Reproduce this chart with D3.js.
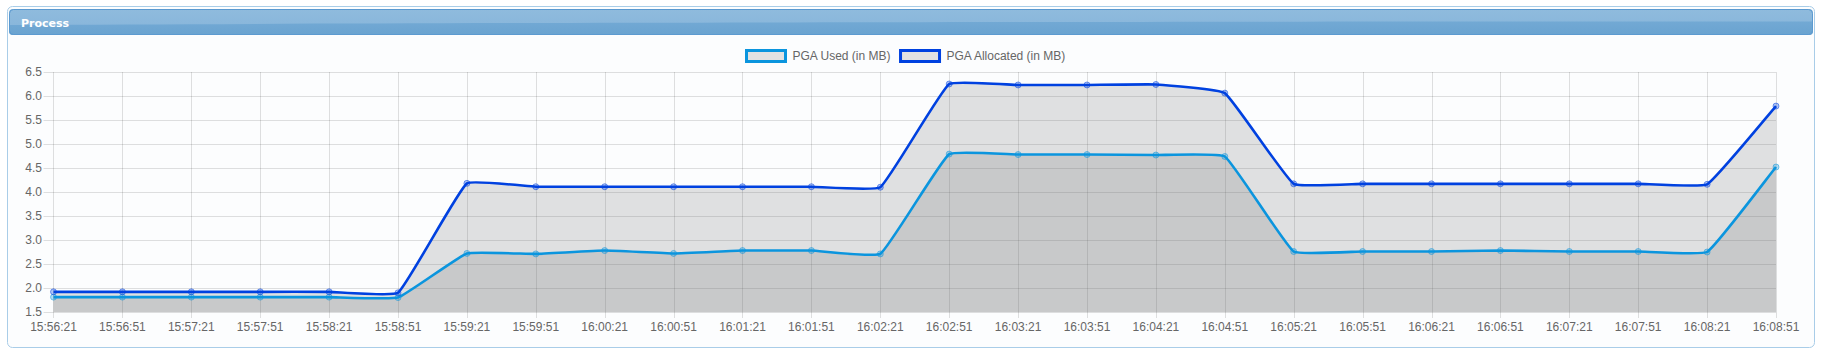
<!DOCTYPE html>
<html>
<head>
<meta charset="utf-8">
<script src="https://cdn.jsdelivr.net/npm/d3@7"></script>
<style>
  html, body { margin: 0; padding: 0; background: #ffffff; }
  svg { display: block; }
</style>
</head>
<body>
<svg id="chart" width="1822" height="352"></svg>
<script>
// ---- data ----
const times = ["15:56:21","15:56:51","15:57:21","15:57:51","15:58:21","15:58:51",
  "15:59:21","15:59:51","16:00:21","16:00:51","16:01:21","16:01:51","16:02:21",
  "16:02:51","16:03:21","16:03:51","16:04:21","16:04:51","16:05:21","16:05:51",
  "16:06:21","16:06:51","16:07:21","16:07:51","16:08:21","16:08:51"];
const pgaUsed = [1.81,1.81,1.81,1.81,1.81,1.80,2.72,2.71,2.78,2.72,2.78,2.78,2.71,
  4.79,4.78,4.78,4.77,4.74,2.76,2.76,2.76,2.78,2.76,2.76,2.75,4.52];
const pgaAllocated = [1.92,1.92,1.92,1.92,1.92,1.90,4.18,4.11,4.11,4.11,4.11,4.11,4.10,
  6.25,6.23,6.23,6.24,6.06,4.17,4.17,4.17,4.17,4.17,4.17,4.16,5.79];
const yTicks = [1.5,2.0,2.5,3.0,3.5,4.0,4.5,5.0,5.5,6.0,6.5];
const seriesNames = ["PGA Used (in MB)","PGA Allocated (in MB)"];
const seriesColors = ["#0b95de","#0041e0"];
const title = "Process";

// ---- layout ----
const svg = d3.select("#chart");
const plot = { left: 53.5, right: 1776, top: 72, bottom: 312 };

const x = d3.scalePoint().domain(times).range([plot.left, plot.right]);
const y = d3.scaleLinear().domain([1.5, 6.5]).range([plot.bottom, plot.top]);

const defs = svg.append("defs");
const hg = defs.append("linearGradient").attr("id","hdr").attr("x1",0).attr("y1",0).attr("x2",0).attr("y2",1);
hg.append("stop").attr("offset","0%").attr("stop-color","#8fbbdd");
hg.append("stop").attr("offset","100%").attr("stop-color","#86b4da");
const hg2 = defs.append("linearGradient").attr("id","hdr2").attr("x1",0).attr("y1",0).attr("x2",0).attr("y2",1);
hg2.append("stop").attr("offset","0%").attr("stop-color","#72a9d4");
hg2.append("stop").attr("offset","100%").attr("stop-color","#6aa3d0");
defs.append("clipPath").attr("id","hclip").append("rect")
  .attr("x",9).attr("y",9).attr("width",1804).attr("height",26).attr("rx",4);

// panel
svg.append("rect").attr("x",7.5).attr("y",6.5).attr("width",1807).attr("height",341)
  .attr("rx",5).attr("fill","#fcfdfe").attr("stroke","#a9cde8").attr("stroke-width",1);
// header
svg.append("rect").attr("x",9).attr("y",9).attr("width",1804).attr("height",26).attr("rx",4)
  .attr("fill","url(#hdr)");
svg.append("path").attr("clip-path","url(#hclip)")
  .attr("d","M9,25 C400,23 1000,21.5 1813,21.5 L1813,35 L9,35 Z")
  .attr("fill","url(#hdr2)");
svg.append("rect").attr("x",9.5).attr("y",9.5).attr("width",1803).attr("height",25).attr("rx",4)
  .attr("fill","none").attr("stroke","#5c9ad0").attr("stroke-width",1);
svg.append("text").attr("x",21).attr("y",27).text(title)
  .attr("font-family","'DejaVu Sans', Verdana, sans-serif").attr("font-weight","bold")
  .attr("font-size","11px").attr("fill","#ffffff");

// grid
const grid = svg.append("g");
grid.selectAll("line.h").data(yTicks).join("line")
  .attr("x1", plot.left - 10).attr("x2", plot.right)
  .attr("y1", d => Math.round(y(d)) + 0.5).attr("y2", d => Math.round(y(d)) + 0.5)
  .attr("stroke","rgba(0,0,0,0.12)").attr("stroke-width",1);
grid.selectAll("line.v").data(times).join("line")
  .attr("x1", d => Math.round(x(d)) + 0.5).attr("x2", d => Math.round(x(d)) + 0.5)
  .attr("y1", plot.top).attr("y2", plot.bottom + 6)
  .attr("stroke","rgba(0,0,0,0.12)").attr("stroke-width",1);

// y labels
svg.append("g").selectAll("text").data(yTicks).join("text")
  .attr("x", 42).attr("y", d => y(d)).attr("dy","0.35em")
  .attr("text-anchor","end").text(d => d.toFixed(1))
  .attr("font-family","'Liberation Sans', Arial, sans-serif").attr("font-size","12px").attr("fill","#666");
// x labels
svg.append("g").selectAll("text").data(times).join("text")
  .attr("x", d => x(d)).attr("y", 331)
  .attr("text-anchor","middle").text(d => d)
  .attr("font-family","'Liberation Sans', Arial, sans-serif").attr("font-size","12px").attr("fill","#666");

// Chart.js-like spline curve (low tension)
class CJCurve {
  constructor(ctx){ this._context = ctx; }
  areaStart(){ this._line = 0; }
  areaEnd(){ this._line = NaN; }
  lineStart(){ this._pts = []; }
  point(px, py){ this._pts.push([+px, +py]); }
  lineEnd(){
    const p = this._pts, n = p.length, c = this._context, t = 0.1;
    if (!n) return;
    if (this._line) c.lineTo(p[0][0], p[0][1]); else c.moveTo(p[0][0], p[0][1]);
    const cps = p.map((pt, i) => {
      const a = p[Math.max(0, i-1)], b = p[Math.min(n-1, i+1)];
      const d01 = Math.hypot(pt[0]-a[0], pt[1]-a[1]);
      const d12 = Math.hypot(b[0]-pt[0], b[1]-pt[1]);
      const s = (d01 + d12) || 1;
      const fa = t * d01 / s, fb = t * d12 / s;
      const cl = v => Math.max(plot.top, Math.min(plot.bottom, v));
      return { ix: pt[0] - fa*(b[0]-a[0]), iy: cl(pt[1] - fa*(b[1]-a[1])),
               ox: pt[0] + fb*(b[0]-a[0]), oy: cl(pt[1] + fb*(b[1]-a[1])) };
    });
    for (let i = 1; i < n; i++)
      c.bezierCurveTo(cps[i-1].ox, cps[i-1].oy, cps[i].ix, cps[i].iy, p[i][0], p[i][1]);
    if (this._line || (this._line !== 0 && n === 1)) c.closePath();
    this._line = 1 - this._line;
  }
}
const curveCJ = ctx => new CJCurve(ctx);

const series = [pgaUsed, pgaAllocated];
const area = d3.area().x((d,i) => x(times[i])).y0(y(1.5)).y1(d => y(d)).curve(curveCJ);
const line = d3.line().x((d,i) => x(times[i])).y(d => y(d)).curve(curveCJ);

const dataG = svg.append("g");
series.forEach((vals) => {
  dataG.append("path").attr("d", area(vals)).attr("fill","rgba(110,110,110,0.2)");
});
series.forEach((vals, si) => {
  dataG.append("path").attr("d", line(vals)).attr("fill","none")
    .attr("stroke", seriesColors[si]).attr("stroke-width", 2.6);
});
series.forEach((vals, si) => {
  dataG.append("g").selectAll("circle").data(vals).join("circle")
    .attr("cx", (d,i) => x(times[i])).attr("cy", d => y(d)).attr("r", 3)
    .attr("fill", seriesColors[si]).attr("fill-opacity", 0.3)
    .attr("stroke", seriesColors[si]).attr("stroke-opacity", 0.5).attr("stroke-width", 1);
});

// legend
const lg = svg.append("g");
let lx = 746.5;
seriesNames.forEach((name, i) => {
  lg.append("rect").attr("x", lx).attr("y", 50.5).attr("width", 39).attr("height", 11)
    .attr("fill","#e2e2e2").attr("stroke", seriesColors[i]).attr("stroke-width", 3);
  const t = lg.append("text").attr("x", lx + 46).attr("y", 56).attr("dy","0.35em").text(name)
    .attr("font-family","'Liberation Sans', Arial, sans-serif").attr("font-size","12px").attr("fill","#666");
  lx += 46 + t.node().getComputedTextLength() + 10;
});
</script>
</body>
</html>
